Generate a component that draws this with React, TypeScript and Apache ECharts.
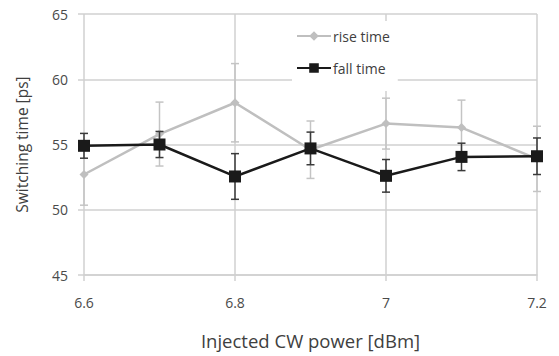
import React, { useEffect, useRef } from "react";
import * as echarts from "echarts";

const powers = [6.6, 6.7, 6.8, 6.9, 7.0, 7.1, 7.2];
const riseTime = [52.7, 55.8, 58.2, 54.6, 56.6, 56.3, 53.9];
const riseErr = [2.35, 2.45, 3.0, 2.2, 1.95, 2.1, 2.5];
const fallTime = [54.9, 55.0, 52.55, 54.7, 52.6, 54.05, 54.1];
const fallErr = [0.95, 1.0, 1.75, 1.25, 1.25, 1.05, 1.4];
const yTicks = [45, 50, 55, 60, 65];
const xTicks = [6.6, 6.8, 7.0, 7.2];

const FONT = "'Open Sans', 'Noto Sans', sans-serif";

function errorSeries(name: string, vals: number[], errs: number[], color: string, z: number) {
  const data = powers.map((p, i) => [p, vals[i] - errs[i], vals[i] + errs[i]]);
  return {
    type: "custom",
    name: name + "_err",
    z,
    silent: true,
    data,
    renderItem: (_params: any, api: any) => {
      const x = api.value(0);
      const lo = api.coord([x, api.value(1)]);
      const hi = api.coord([x, api.value(2)]);
      const w = 4;
      const style = { stroke: color, lineWidth: 1.5, fill: "none" };
      return {
        type: "group",
        children: [
          { type: "line", shape: { x1: lo[0], y1: lo[1], x2: hi[0], y2: hi[1] }, style },
          { type: "line", shape: { x1: lo[0] - w, y1: lo[1], x2: lo[0] + w, y2: lo[1] }, style },
          { type: "line", shape: { x1: hi[0] - w, y1: hi[1], x2: hi[0] + w, y2: hi[1] }, style },
        ],
      };
    },
  };
}

export default function App() {
  const ref = useRef<HTMLDivElement>(null);
  useEffect(() => {
    if (!ref.current) return;
    const chart = echarts.init(ref.current, null, { renderer: "svg" });
    chart.setOption({
      animation: false,
      backgroundColor: "#ffffff",
      grid: { left: 84, right: 22, top: 14, bottom: 81 },
      legend: {
        data: ["rise time", "fall time"],
        orient: "vertical",
        left: 292,
        top: 21,
        padding: [8, 8, 16, 4],
        itemGap: 18,
        itemWidth: 34,
        itemHeight: 12,
        backgroundColor: "#ffffff",
        textStyle: { fontFamily: FONT, fontSize: 14, color: "#404040", padding: [0, 0, 0, -3] },
      },
      xAxis: {
        type: "value",
        min: 6.6,
        max: 7.2,
        interval: 0.2,
        name: "Injected CW power [dBm]",
        nameLocation: "middle",
        nameGap: 56,
        nameTextStyle: { fontFamily: FONT, fontSize: 18.5, color: "#404040" },
        axisLine: { show: true, lineStyle: { color: "#d0d0d0", width: 1.5 } },
        axisTick: { show: true, length: 6, lineStyle: { color: "#d0d0d0", width: 1.5 } },
        axisLabel: {
          fontFamily: FONT,
          fontSize: 14,
          color: "#4a4a4a",
          margin: 20,
          customValues: xTicks,
          formatter: (v: number) => String(Math.round(v * 10) / 10),
        },
        splitLine: { show: true, lineStyle: { color: "#d0d0d0", width: 1.5 } },
      },
      yAxis: {
        type: "value",
        min: 45,
        max: 65,
        interval: 5,
        name: "Switching time [ps]",
        nameLocation: "middle",
        nameGap: 54,
        nameTextStyle: { fontFamily: FONT, fontSize: 15.5, color: "#404040" },
        axisLine: { show: false },
        axisTick: { show: true, length: 6, lineStyle: { color: "#d0d0d0", width: 1.5 } },
        axisLabel: {
          fontFamily: FONT,
          fontSize: 14,
          color: "#4a4a4a",
          margin: 16,
          customValues: yTicks,
        },
        splitLine: { show: true, lineStyle: { color: "#d0d0d0", width: 1.5 } },
      },
      series: [
        errorSeries("rise time", riseTime, riseErr, "#c4c4c4", 2),
        {
          type: "line",
          name: "rise time",
          z: 3,
          data: powers.map((p, i) => [p, riseTime[i]]),
          symbol: "diamond",
          symbolSize: 9,
          lineStyle: { color: "#bfbfbf", width: 2.5 },
          itemStyle: { color: "#bfbfbf" },
        },
        errorSeries("fall time", fallTime, fallErr, "#3a3a3a", 4),
        {
          type: "line",
          name: "fall time",
          z: 5,
          data: powers.map((p, i) => [p, fallTime[i]]),
          symbol: "rect",
          symbolSize: 12,
          lineStyle: { color: "#1a1a1a", width: 2.5 },
          itemStyle: { color: "#1a1a1a" },
        },
      ],
    });
    return () => chart.dispose();
  }, []);
  return (
    <div
      ref={ref}
      style={{ position: "fixed", left: 0, top: 0, width: 559, height: 356 }}
    />
  );
}
